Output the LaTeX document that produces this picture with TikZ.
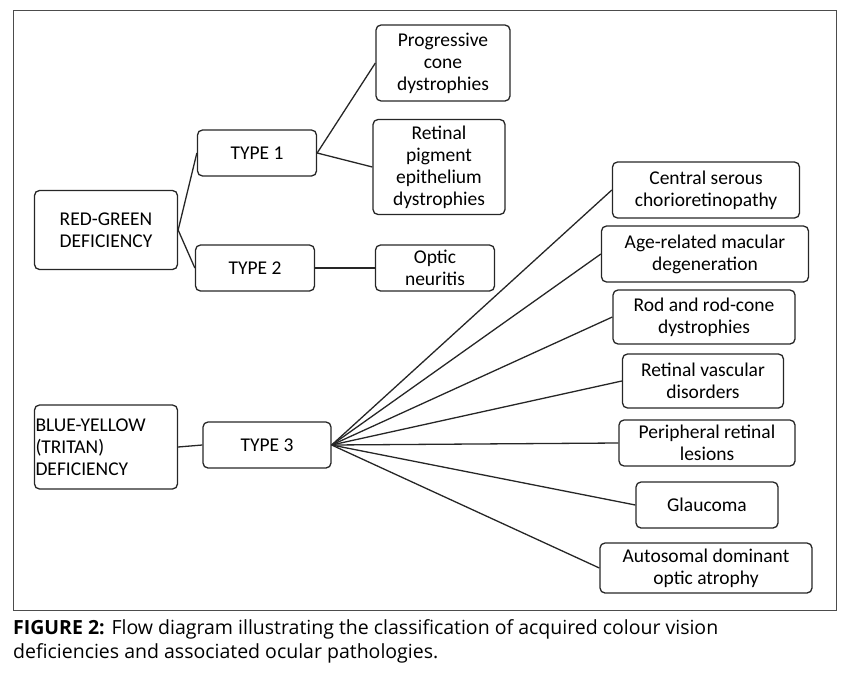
\documentclass[tikz,border=0pt]{standalone}
\usepackage{fontspec}
\setmainfont{Carlito}
\newfontfamily\capfont{Open Sans}
\usepackage{tikz}

\tikzset{
  box/.style={draw=black!85, line width=1.3pt, rounded corners=5pt, align=center,
    font=\fontsize{19.5}{22}\selectfont, inner sep=0pt},
  link/.style={draw=black!85, line width=1.3pt}
}

\begin{document}
\begin{tikzpicture}[x=1pt,y=-1pt]
        \useasboundingbox (0,0) rectangle (854,672);
        \draw [black!70, line width=1pt] (13,10) rectangle (836,610);
        % classes
        \node [box, minimum width=143, minimum height=79] (rg) at (106,230) {RED-GREEN\\DEFICIENCY};
        \node [box, minimum width=143, minimum height=84, align=left, text width=141] (by) at (106,447) {BLUE-YELLOW\\(TRITAN)\\DEFICIENCY};
        % types
        \node [box, minimum width=119, minimum height=46] (t1) at (257,153) {TYPE 1};
        \node [box, minimum width=119, minimum height=46] (t2) at (255,268) {TYPE 2};
        \node [box, minimum width=128, minimum height=46] (t3) at (267,445) {TYPE 3};
        % type 1 and 2
        \node [box, minimum width=134, minimum height=76] (pcd) at (443,63) {Progressive\\cone\\dystrophies};
        \node [box, minimum width=132, minimum height=95] (rpe) at (439,167) {Retinal\\pigment\\epithelium\\dystrophies};
        \node [box, minimum width=119, minimum height=46] (on) at (435,268) {Optic\\neuritis};
        % type 3
        \node [box, minimum width=187, minimum height=56] (csc) at (706,190) {Central serous\\chorioretinopathy};
        \node [box, minimum width=207, minimum height=56] (amd) at (705,254) {Age-related macular\\degeneration};
        \node [box, minimum width=182, minimum height=54] (rod) at (704,317) {Rod and rod-cone\\dystrophies};
        \node [box, minimum width=161, minimum height=54] (rvd) at (703,381) {Retinal vascular\\disorders};
        \node [box, minimum width=176, minimum height=46] (prl) at (707,443) {Peripheral retinal\\lesions};
        \node [box, minimum width=142, minimum height=46] (gl) at (707,505) {Glaucoma};
        \node [box, minimum width=212, minimum height=50] (ado) at (706,568) {Autosomal dominant\\optic atrophy};
        % links
        \draw [link] (rg.east) -- (t1.west);
        \draw [link] (rg.east) -- (t2.west);
        \draw [link] (t1.east) -- (pcd.west);
        \draw [link] (t1.east) -- (rpe.west);
        \draw [link] (t2.east) -- (on.west);
        \draw [link] (by.east) -- (t3.west);
        \foreach \n in {csc,amd,rod,rvd,prl,gl,ado}
          \draw [link] (t3.east) -- (\n.west);
        % caption
        \node [anchor=north west, align=left, font=\capfont\fontsize{19.5}{24}\selectfont, inner sep=0pt] (cap) at (13,619)
          {\textbf{FIGURE 2:} Flow diagram illustrating the classification of acquired colour vision\\deficiencies and associated ocular pathologies.};
\end{tikzpicture}
\end{document}
